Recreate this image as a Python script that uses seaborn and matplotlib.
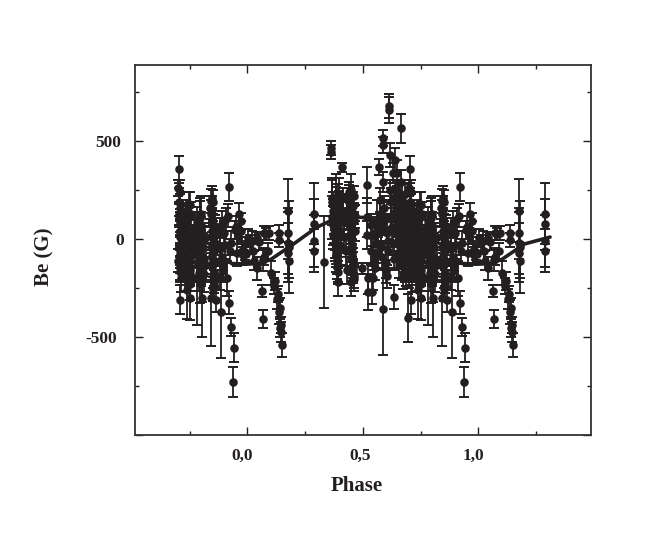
# Modules
import numpy as np
import pandas as pd
import seaborn as sns
import matplotlib
matplotlib.use('Agg')
import matplotlib.pyplot as plt
from matplotlib.ticker import MultipleLocator, FuncFormatter
from matplotlib.transforms import ScaledTranslation

# Data: one cycle (points repeat one phase unit away)
phase = [0.004, 0.012, 0.018, 0.026, 0.03, 0.04, 0.042, 0.05, 0.062, 0.066, 0.068, 0.07, 0.072, 0.08, 0.09, 0.095, 0.1,
         0.115, 0.118, 0.128, 0.132, 0.136, 0.136, 0.137, 0.14, 0.142, 0.144, 0.146, 0.15, 0.175, 0.175, 0.175, 0.176, 0.178, 0.18,
         0.288, 0.288, 0.288, 0.29, 0.33,
         0.36, 0.362, 0.365, 0.366, 0.368, 0.37, 0.372, 0.375, 0.38, 0.382, 0.385, 0.388, 0.39, 0.392, 0.395, 0.398, 0.4, 0.405, 0.41, 0.415, 0.415,
         0.418, 0.42, 0.425, 0.43, 0.44, 0.44, 0.445, 0.445, 0.448, 0.45, 0.452, 0.452, 0.455, 0.455, 0.458, 0.46, 0.46, 0.462, 0.465,
         0.497, 0.517, 0.517, 0.517, 0.52, 0.52, 0.535, 0.535, 0.54, 0.545, 0.548, 0.55, 0.555, 0.56, 0.565,
         0.57, 0.572, 0.575, 0.578, 0.58, 0.582, 0.585, 0.587, 0.587, 0.587, 0.59, 0.592, 0.6, 0.602, 0.605, 0.608,
         0.613, 0.613, 0.615, 0.618, 0.62, 0.622, 0.625, 0.63, 0.632, 0.635, 0.635, 0.638, 0.64, 0.642, 0.645, 0.648, 0.65, 0.652, 0.655, 0.658, 0.66,
         0.663, 0.665, 0.668, 0.67, 0.672, 0.674, 0.676, 0.678, 0.68, 0.682, 0.684, 0.686, 0.688, 0.69, 0.692, 0.694, 0.696, 0.698, 0.7,
         0.704, 0.704, 0.704, 0.704, 0.706, 0.706, 0.706, 0.706, 0.708, 0.708, 0.708, 0.71, 0.71,
         0.733, 0.735, 0.735, 0.74, 0.74, 0.742, 0.745, 0.745, 0.748, 0.75, 0.75, 0.752, 0.755, 0.758,
         0.775, 0.778, 0.78, 0.782, 0.785, 0.786, 0.79, 0.795, 0.8, 0.802, 0.805, 0.806, 0.81, 0.812, 0.815, 0.82,
         0.838, 0.84, 0.842, 0.844, 0.846, 0.848, 0.85, 0.85, 0.852, 0.854, 0.855, 0.858, 0.86, 0.862,
         0.88, 0.885, 0.89, 0.895, 0.9, 0.902, 0.905, 0.91, 0.915, 0.92, 0.92, 0.925, 0.93, 0.93, 0.937, 0.94,
         0.945, 0.95, 0.955, 0.96, 0.965, 0.97, 0.97, 0.975, 0.98, 0.985, 0.99, 0.995]
be = [5, -20, -10, -60, -110, 5, -150, -15, -265, -107, -408, 30, -90, 25, -60, 30, -173,
      -240, -215, -306, -280, 30, -5, -372, -350, -455, -475, -440, -540, 145, 30, -20, -70, -40, -110,
      130, 75, -10, -60, -115,
      465, 445, 210, 190, 110, 70, 20, 150, -20, -70, 205, 130, 60, -130, 190, 100, 30, -40, 365, 210, 140,
      85, 10, -60, -160, 240, 190, 150, 100, 60, 20, -30, -70, -110, -150, 170, -190, 130, 90, 40,
      -150, 275, 110, 20, -200, -270, 70, -60, -270, -200, -110, 30, -20, 80, -70,
      367, 200, 130, 50, -30, -90, 290, 515, 480, -357, 160, 90, -120, 30, -190, -60,
      678, 658, 428, 250, 190, 120, 60, -20, 337, -100, -295, 200, 403, 130, 60, 337, -10, -70, -130, 230, 170,
      565, 290, 210, 150, 80, 20, -40, -100, -160, 230, 170, 110, 50, -10, -70, -130, -403, -190, 260,
      355, 190, 130, 120, 80, 40, -60, -100, -80, -130, -170, -310, 10,
      140, 100, 60, -260, 10, -30, -60, -100, -140, -180, -230, -300, 130, -40,
      50, -20, -70, -200, -120, -30, -175, 120, 70, 20, -300, -40, -100, -180, 5, -130,
      160, 195, -300, 130, 90, 40, 0, -60, -110, -170, -230, -50, -20, -310,
      -50, -372, -90, -140, 30, -30, 100, -200, 120, 265, -325, -60, -450, -20, -730, -555,
      45, 60, -70, 15, 130, 90, 40, -60, -80, -70, -65, -75]
err = [45, 40, 50, 50, 50, 30, 60, 40, 30, 55, 45, 35, 45, 30, 40, 35, 60,
       40, 45, 50, 40, 40, 35, 60, 50, 45, 50, 40, 60, 160, 130, 160, 150, 235, 90,
       155, 130, 135, 110, 235,
       35, 35, 90, 120, 110, 100, 70, 70, 90, 100, 60, 70, 80, 90, 55, 70, 70, 90, 25, 50, 60,
       60, 80, 80, 70, 50, 40, 50, 55, 45, 60, 60, 70, 65, 50, 70, 60, 55, 50, 50,
       30, 90, 100, 70, 80, 90, 60, 70, 60, 60, 50, 70, 60, 120, 80,
       40, 60, 70, 60, 60, 70, 50, 40, 40, 235, 60, 70, 80, 70, 60, 90,
       60, 65, 60, 50, 70, 60, 70, 60, 50, 60, 60, 60, 60, 70, 70, 65, 70, 80, 70, 60, 60,
       75, 60, 70, 60, 70, 80, 60, 70, 60, 50, 60, 70, 70, 60, 70, 70, 120, 60, 40,
       70, 70, 60, 60, 60, 60, 70, 50, 50, 45, 50, 75, 60,
       60, 70, 60, 150, 80, 70, 80, 70, 80, 60, 80, 115, 60, 50,
       90, 90, 80, 240, 100, 80, 90, 90, 70, 60, 200, 70, 80, 90, 60, 90,
       60, 60, 245, 70, 70, 60, 70, 60, 70, 70, 70, 80, 60, 60,
       60, 235, 70, 60, 60, 70, 60, 90, 60, 70, 60, 60, 45, 60, 75, 75,
       45, 60, 70, 40, 55, 45, 50, 70, 40, 50, 40, 40]

# second pass over the crowded columns
phase_dense = [0.37, 0.372, 0.374, 0.376, 0.378, 0.38, 0.382, 0.384, 0.386, 0.388, 0.39, 0.392, 0.394,
               0.44, 0.442, 0.444, 0.446, 0.448, 0.45, 0.452, 0.454, 0.456, 0.458, 0.46, 0.462, 0.464,
               0.64, 0.645, 0.65, 0.655, 0.66, 0.665, 0.67, 0.675, 0.68, 0.685, 0.69, 0.695, 0.7,
               0.642, 0.648, 0.654, 0.66, 0.668, 0.674, 0.68, 0.686, 0.692, 0.698,
               0.706, 0.708, 0.71, 0.712, 0.706, 0.708, 0.71, 0.712,
               0.745, 0.748, 0.75, 0.752, 0.755, 0.748, 0.75, 0.752, 0.755, 0.758,
               0.795, 0.8, 0.805, 0.795, 0.8, 0.805, 0.795, 0.8, 0.805,
               0.845, 0.848, 0.85, 0.852, 0.855, 0.845, 0.848, 0.85, 0.852, 0.855, 0.858, 0.845,
               0.73, 0.735, 0.74, 0.73, 0.735, 0.78, 0.785, 0.78, 0.785, 0.88, 0.885, 0.88, 0.89, 0.895,
               0.54, 0.55, 0.56, 0.58, 0.59, 0.6, 0.61, 0.62,
               0.45, 0.385, 0.395, 0.45, 0.39, 0.85, 0.75, 0.8, 0.71]
be_dense = [180, 145, 95, 50, 5, -25, -55, -85, -110, -145, -170, 230, 160,
            205, 155, 125, 75, 35, -5, -45, -85, -125, -165, -205, 220, 115,
            215, 160, 100, 30, -40, -90, -140, -195, 180, 125, 75, -25, -110,
            240, 185, 140, 65, 0, -65, -120, -180, 100, 45,
            160, 95, 25, -20, -35, -115, -150, -200,
            180, 115, 35, -15, -85, -120, -160, -205, -75, 10,
            105, 40, -15, -75, -140, -200, -225, -170, 5,
            210, 150, 70, 20, -35, -85, -140, -190, -255, -205, 65, -30,
            30, -80, -160, -195, -120, 85, 30, -60, -130, 35, -120, -200, 75, -160,
            15, -150, 40, -40, 120, -165, -10, 100,
            250, 200, 230, -220, -220, 190, 175, 130, 240]
err_dense = [60, 60, 70, 70, 60, 70, 70, 60, 70, 60, 60, 50, 50,
             70, 65, 60, 70, 60, 60, 70, 60, 60, 60, 60, 50, 60,
             70, 60, 70, 60, 70, 60, 70, 60, 60, 70, 60, 70, 60,
             60, 65, 60, 70, 60, 70, 60, 60, 70, 60,
             70, 60, 65, 60, 70, 60, 60, 70,
             60, 70, 60, 70, 65, 60, 70, 60, 65, 60,
             90, 70, 80, 70, 90, 120, 100, 70, 60,
             60, 70, 60, 70, 65, 60, 70, 60, 60, 70, 60, 65,
             70, 60, 60, 70, 60, 80, 70, 60, 60, 70, 60, 60, 70, 60,
             50, 60, 70, 60, 70, 60, 70, 60,
             80, 130, 80, 70, 70, 60, 65, 90, 60]

# longitudinal field curve
fit_phase = [-0.07, 0.0, 0.05, 0.1, 0.2, 0.3, 0.4, 0.5, 0.58, 0.7, 0.8, 0.93, 1.0, 1.05, 1.1, 1.2, 1.31]
fit_be = [-125, -128, -125, -105, -25, 60, 115, 110, 80, -40, -105, -125, -128, -125, -105, -25, 10]

# fine offsets of the tick labels, in pixels
ytick_shift = {500: -1, 0: 2, -500: -5}
xtick_shift = {0.0: -5, 0.5: -3, 1.0: -5}

data = pd.DataFrame({'phase': phase + phase_dense, 'be': be + be_dense, 'err': err + err_dense})
left = data[data['phase'] >= 0.7].assign(phase=lambda d: d['phase'] - 1)
right = data[data['phase'] <= 0.31].assign(phase=lambda d: d['phase'] + 1)
all_data = pd.concat([left, data, right], ignore_index=True)
fit = pd.DataFrame({'phase': fit_phase, 'be': fit_be})

# Plot
sns.set_theme(style='ticks')
plt.rcParams['font.family'] = ['Liberation Serif', 'DejaVu Serif']
dark = '#231f20'

fig = plt.figure(figsize=(6.64, 5.36), dpi=100)
ax = fig.add_axes([134.5 / 664, 1 - 435 / 536, 456 / 664, 370 / 536])

ax.errorbar(all_data['phase'], all_data['be'], yerr=all_data['err'], fmt='none',
            ecolor=dark, elinewidth=1.3, capsize=3.6, capthick=1.4, zorder=2)
sns.scatterplot(x='phase', y='be', data=all_data, color=dark, s=38, linewidth=0, ax=ax, zorder=3)
sns.lineplot(x='phase', y='be', data=fit, color=dark, linewidth=2.6, sort=False,
             estimator=None, ax=ax, zorder=4)

ax.set_xlim(-0.489, 1.485)
ax.set_ylim(-1000, 888)
ax.xaxis.set_major_locator(MultipleLocator(0.5))
ax.xaxis.set_minor_locator(MultipleLocator(0.25))
ax.yaxis.set_major_locator(MultipleLocator(500))
ax.yaxis.set_minor_locator(MultipleLocator(250))
ax.xaxis.set_major_formatter(FuncFormatter(lambda v, p: f'{v:.1f}'.replace('.', ',')))
ax.yaxis.set_major_formatter(FuncFormatter(lambda v, p: '' if v < -900 else f'{v:.0f}'))

ax.tick_params(which='major', direction='in', top=True, right=True, length=5.8, width=1.0,
               color=dark, labelcolor=dark, labelsize=12.5, pad=9)
ax.tick_params(which='minor', direction='in', top=True, right=True, length=3, width=1.0, color=dark)
fig.canvas.draw()
for tick in ax.yaxis.get_major_ticks():
    tick.label1.set_fontweight('bold')
    shift = ytick_shift.get(round(tick.get_loc()), 0)
    tick.label1.set_transform(tick.label1.get_transform() + ScaledTranslation(shift / 100, 0, fig.dpi_scale_trans))
for tick in ax.xaxis.get_major_ticks():
    tick.label1.set_fontweight('bold')
    shift = xtick_shift.get(round(tick.get_loc(), 1), 0)
    tick.label1.set_transform(tick.label1.get_transform() + ScaledTranslation(shift / 100, 0, fig.dpi_scale_trans))
for side in ax.spines.values():
    side.set_linewidth(1.3)
    side.set_color('#333333')

ax.set_xlabel('Phase', fontsize=15, fontweight='bold', color=dark)
ax.set_ylabel('Be (G)', fontsize=15, fontweight='bold', color=dark)
ax.xaxis.set_label_coords(0.488, -0.11)
ax.yaxis.set_label_coords(-0.175, 0.481)

fig.savefig('out.png', dpi=100, facecolor='white')
